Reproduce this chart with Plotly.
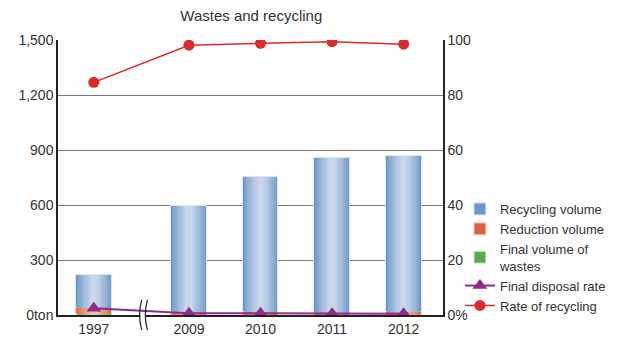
import plotly.graph_objects as go

# Data
years = ["1997", "2009", "2010", "2011", "2012"]
recycling_volume = [184, 581, 736, 846, 855]
reduction_volume = [33, 12, 16, 10, 12]
final_volume = [3, 2, 2, 2, 2]
final_disposal_rate = [2.5, 0.6, 0.6, 0.5, 0.5]
recycling_rate = [84.6, 98.1, 98.8, 99.4, 98.5]

# x positions: axis break between 1997 and 2009
x_pos = [0, 1.33, 2.33, 3.33, 4.33]

FONT = "Liberation Sans, Arial, sans-serif"
BAR_W = 0.5
N_LAYERS = 14


def mix(c1, c2, t):
    a = [int(c1[i:i + 2], 16) for i in (1, 3, 5)]
    b = [int(c2[i:i + 2], 16) for i in (1, 3, 5)]
    return "#" + "".join(f"{round(a[k] + (b[k] - a[k]) * t):02x}" for k in range(3))


fig = go.Figure()


# Draw one bar series as stacked layers to fake the cylinder gradient
def add_gradient_bars(name, values, base, edge, center, rank, line_color):
    for i in range(N_LAYERS):
        t = i / (N_LAYERS - 1)
        fig.add_trace(go.Bar(
            x=x_pos, y=values, base=base,
            width=BAR_W * (1 - 0.85 * t),
            marker=dict(color=mix(edge, center, t ** 0.8),
                        line=dict(color=line_color if i == 0 else mix(edge, center, t),
                                  width=1 if i == 0 else 0)),
            name=name, showlegend=(i == 0), legendrank=rank,
            hoverinfo="skip" if i else None,
        ))


base_red = final_volume
base_blue = [a + b for a, b in zip(final_volume, reduction_volume)]

add_gradient_bars("Final volume of<br>wastes", final_volume, [0] * 5,
                  "#5aaa4f", "#bfe0b6", 3, "#dcefd8")
add_gradient_bars("Reduction volume", reduction_volume, base_red,
                  "#e0603f", "#f6bca4", 2, "#f6d6cc")
add_gradient_bars("Recycling volume", recycling_volume, base_blue,
                  "#6a96c8", "#c9d7eb", 1, "#dbe6f3")

# Rate lines on the right axis
fig.add_trace(go.Scatter(
    x=x_pos, y=final_disposal_rate, yaxis="y2", name="Final disposal rate",
    mode="lines+markers", line=dict(color="#8e2a8c", width=2),
    marker=dict(symbol="triangle-up", size=13, color="#8e2a8c"), legendrank=4,
))
fig.add_trace(go.Scatter(
    x=x_pos, y=recycling_rate, yaxis="y2", name="Rate of recycling",
    mode="lines+markers", line=dict(color="#dd2a2a", width=1.5),
    marker=dict(symbol="circle", size=11, color="#dd2a2a"), legendrank=5,
))

# Axis break marks between 1997 and 2009
bx = 0.69
fig.add_shape(type="rect", xref="x", yref="paper", x0=bx - 0.04, x1=bx + 0.04,
              y0=-0.01, y1=0.01, fillcolor="white", line_width=0, layer="above")
for dx in (-0.04, 0.04):
    x0 = bx + dx
    fig.add_shape(type="path", xref="x", yref="paper", layer="above",
                  path=f"M {x0 + 0.02},0.055 Q {x0 - 0.04},0 {x0 + 0.02},-0.055",
                  line=dict(color="#222", width=1.2))

# page body adds an 8px margin, so the figure is sized and placed to offset it
fig.update_layout(
    width=616, height=331,
    margin=dict(l=50, r=181, t=32, b=24),
    paper_bgcolor="white", plot_bgcolor="white",
    barmode="overlay", bargap=0,
    font=dict(family=FONT, size=14, color="#333"),
    title=dict(text="Wastes and recycling", x=0.395, xanchor="center",
               y=0.976, yanchor="middle", font=dict(size=15, color="#333")),
    showlegend=True,
    legend=dict(x=1.044, xanchor="left", y=0.44, yanchor="top",
                font=dict(size=13, color="#333"), bgcolor="rgba(0,0,0,0)",
                tracegroupgap=2, itemwidth=30),
    xaxis=dict(range=[-0.5, 4.88], tickvals=x_pos, ticktext=years,
               showgrid=False, zeroline=False, showline=True, automargin=False,
               linecolor="#222", linewidth=1.5, ticks="", tickfont=dict(size=14)),
    yaxis=dict(range=[0, 1500], tickvals=[0, 300, 600, 900, 1200, 1500],
               ticktext=["0ton", "300", "600", "900", "1,200", "1,500"],
               showgrid=True, gridcolor="#777777", gridwidth=1, automargin=False,
               zeroline=False, showline=True, linecolor="#222", linewidth=1.5,
               ticks="", tickfont=dict(size=14)),
    yaxis2=dict(range=[0, 100], overlaying="y", side="right",
                tickvals=[0, 20, 40, 60, 80, 100],
                ticktext=["0%", "20", "40", "60", "80", "100"],
                showgrid=False, zeroline=False, showline=True, automargin=False,
                linecolor="#222", linewidth=1.5, ticks="",
                tickfont=dict(size=14)),
)

fig.write_html("out.html")
